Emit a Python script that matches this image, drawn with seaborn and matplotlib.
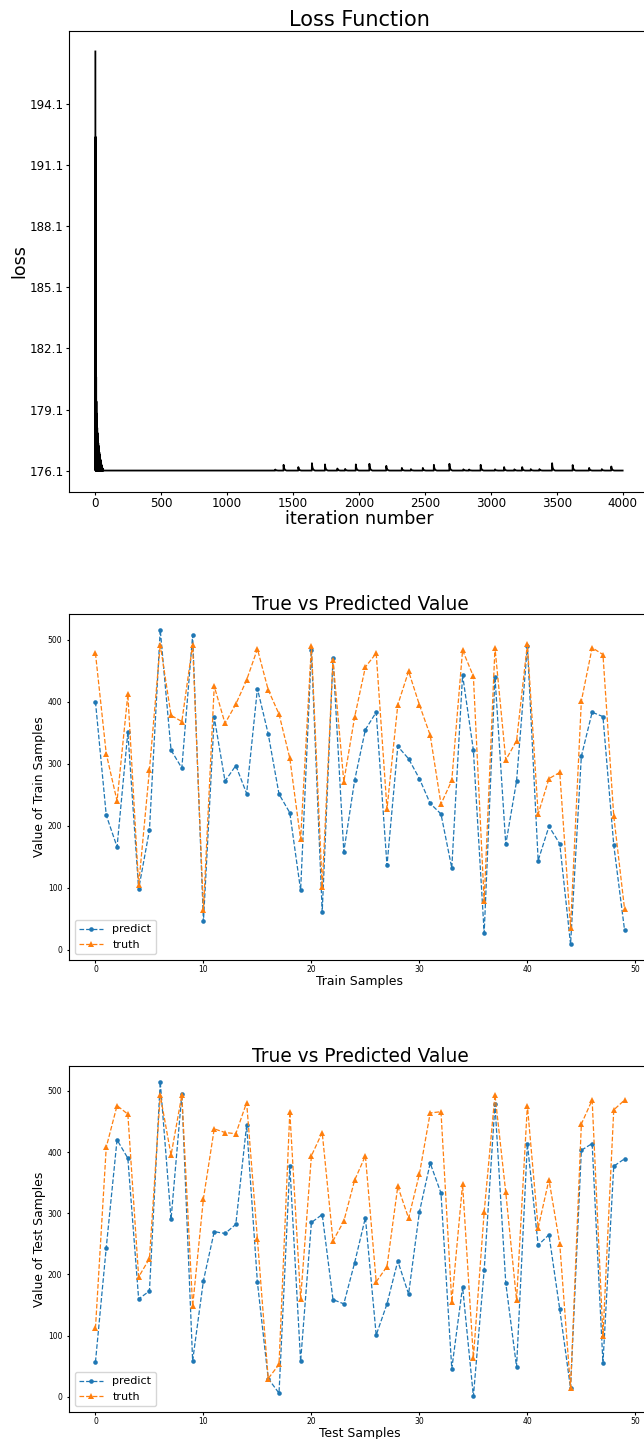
import numpy as np
import pandas as pd
import matplotlib
matplotlib.use("Agg")
import matplotlib.pyplot as plt
import seaborn as sns

# ---------------- data ----------------
loss_ticks = [176.1, 179.1, 182.1, 185.1, 188.1, 191.1, 194.1]
loss_base = 176.1
loss_last_iter = 4000
# early phase: oscillation peaks (every other iteration drops to the base)
early_peak_iter = [0, 2, 4, 6, 8, 10, 12, 14, 16, 18, 20, 22, 24, 26, 28, 30,
                   32, 34, 36, 38, 40, 42, 44, 46, 48, 50, 52, 54, 56, 58, 60]
early_peak_loss = [196.7, 192.5, 184.2, 180.7, 179.5, 178.9, 178.5, 178.2, 177.95,
                   177.75, 177.6, 177.45, 177.32, 177.2, 177.1, 177.0, 176.9, 176.8,
                   176.72, 176.65, 176.58, 176.5, 176.44, 176.38, 176.33, 176.28,
                   176.24, 176.2, 176.17, 176.14, 176.12]
# later small spikes
spike_iter = [1364, 1427, 1539, 1642, 1741, 1835, 1894, 1975, 2078, 2206, 2324,
              2393, 2483, 2567, 2685, 2791, 2835, 2922, 3031, 3100, 3178, 3237,
              3302, 3368, 3464, 3620, 3745, 3841, 3913]
spike_height = [0.05, 0.28, 0.17, 0.36, 0.30, 0.10, 0.08, 0.30, 0.33, 0.23, 0.13,
                0.07, 0.13, 0.28, 0.33, 0.06, 0.05, 0.28, 0.06, 0.17, 0.06, 0.17,
                0.07, 0.07, 0.36, 0.27, 0.13, 0.07, 0.20]
spike_tail_offset = [0, 1, 3, 6, 10, 16, 24]
spike_tail_frac = [0.0, 1.0, 0.6, 0.35, 0.18, 0.07, 0.0]

samples = list(range(50))
train_predict = [400, 217, 166, 351, 98, 193, 516, 322, 293, 507,
                 46, 375, 272, 297, 252, 421, 348, 251, 221, 96,
                 483, 61, 471, 158, 273, 355, 383, 136, 328, 308,
                 276, 236, 219, 132, 443, 322, 27, 440, 170, 272,
                 490, 144, 199, 171, 9, 312, 383, 376, 169, 32]
train_truth = [478, 316, 240, 412, 104, 290, 492, 378, 368, 492,
               64, 425, 365, 396, 435, 485, 419, 380, 309, 178,
               490, 101, 467, 271, 375, 456, 478, 227, 395, 449,
               395, 346, 235, 273, 483, 441, 79, 487, 306, 337,
               493, 219, 276, 286, 36, 401, 487, 476, 216, 66]
test_predict = [57, 244, 420, 390, 160, 173, 515, 290, 495, 59,
                190, 270, 267, 282, 444, 187, 30, 6, 378, 58,
                285, 298, 159, 152, 219, 293, 101, 152, 222, 168,
                302, 382, 333, 46, 180, 1, 207, 478, 186, 49,
                414, 248, 265, 143, 14, 403, 414, 55, 377, 389]
test_truth = [112, 408, 476, 462, 196, 226, 493, 395, 493, 148,
              324, 438, 432, 430, 481, 258, 30, 53, 466, 160,
              394, 432, 255, 287, 354, 394, 188, 213, 344, 292,
              364, 464, 466, 155, 348, 64, 302, 494, 334, 158,
              476, 276, 355, 250, 14, 446, 485, 100, 469, 485]

# ---------------- build loss polyline ----------------
it, ls = [], []
for i, p in zip(early_peak_iter, early_peak_loss):
    it += [i, i + 1]
    ls += [p, loss_base]
for s, h in zip(spike_iter, spike_height):
    for off, fr in zip(spike_tail_offset, spike_tail_frac):
        it.append(s + off)
        ls.append(loss_base + h * fr)
it.append(loss_last_iter)
ls.append(loss_base)
loss_df = pd.DataFrame({"iteration": it, "loss": ls})

# ---------------- figure ----------------
W, H = 644, 1439
fig = plt.figure(figsize=(W / 100, H / 100), dpi=100)

def axes_px(left, top, right, bottom):
    return fig.add_axes([left / W, (H - bottom) / H, (right - left) / W, (bottom - top) / H])

ax0 = axes_px(69, 30.5, 649, 491.5)
sns.lineplot(data=loss_df, x="iteration", y="loss", color="black", linewidth=1.3,
             estimator=None, sort=False, ax=ax0)
ax0.set_yticks(loss_ticks)
ax0.set_yticklabels([f"{v:.1f}" for v in loss_ticks])
ax0.tick_params(labelsize=8.6, length=2.2, pad=1.5)
ax0.set_title("Loss Function", fontsize=15, pad=3)
ax0.set_xlabel("iteration number", fontsize=12.6, labelpad=0)
ax0.set_ylabel("loss", fontsize=12.6, labelpad=1)

def pv_plot(ax, pred, truth, xlabel, ylabel):
    df = pd.DataFrame({"x": samples, "predict": pred, "truth": truth})
    sns.lineplot(data=df, x="x", y="predict", ax=ax, color="#1f77b4", linestyle="--",
                 linewidth=0.9, marker="o", markersize=3.3, markeredgewidth=0,
                 label="predict")
    sns.lineplot(data=df, x="x", y="truth", ax=ax, color="#ff7f0e", linestyle="--",
                 linewidth=0.9, marker="^", markersize=3.8, markeredgewidth=0,
                 label="truth")
    ax.set_title("True vs Predicted Value", fontsize=13.4, pad=2)
    ax.set_xlabel(xlabel, fontsize=8.9, labelpad=1)
    ax.set_ylabel(ylabel, fontsize=8.9, labelpad=1)
    ax.tick_params(labelsize=5.5, length=1.8, pad=1.5)
    ax.tick_params(axis="y", pad=3)
    ax.legend(loc="lower left", fontsize=8, handlelength=2.2)

ax1 = axes_px(69, 614, 651, 960)
pv_plot(ax1, train_predict, train_truth, "Train Samples", "Value of Train Samples")
ax2 = axes_px(69, 1066, 651, 1412)
pv_plot(ax2, test_predict, test_truth, "Test Samples", "Value of Test Samples")

fig.savefig("out.png", dpi=100)
